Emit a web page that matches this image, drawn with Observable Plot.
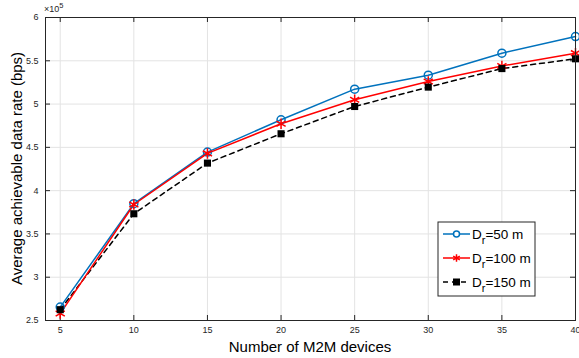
<!DOCTYPE html>
<html>
<head>
<meta charset="utf-8">
<script src="https://cdn.jsdelivr.net/npm/d3@7"></script>
<script src="https://cdn.jsdelivr.net/npm/@observablehq/plot@0.6"></script>
<style>
  html, body { margin: 0; padding: 0; background: #fff; }
  #chart { position: relative; width: 579px; height: 358px; }
  svg { font-family: "Liberation Sans", Arial, sans-serif; }
</style>
</head>
<body>
<div id="chart"></div>
<script>
const devices = [5, 10, 15, 20, 25, 30, 35, 40];
const rate50  = [265500, 384900, 444500, 481900, 517200, 533400, 558800, 578000];
const rate100 = [258000, 384000, 443000, 477300, 505000, 526100, 544000, 558800];
const rate150 = [262500, 373300, 431800, 465700, 497200, 519600, 541000, 552300];
const xTicks = [5, 10, 15, 20, 25, 30, 35, 40];
const yTicks = [250000, 300000, 350000, 400000, 450000, 500000, 550000, 600000];
const seriesNames = ["D_r=50 m", "D_r=100 m", "D_r=150 m"];

const W = 579, H = 358;
const mL = 45, mR = 4, mT = 17, mB = 38;
const innerH = H - mT - mB, innerW = W - mL - mR;
const axisColor = "#262626";
const gridColor = "#e3e3e3";

const s50 = devices.map((d, i) => ({x: d, y: rate50[i]}));
const s100 = devices.map((d, i) => ({x: d, y: rate100[i]}));
const s150 = devices.map((d, i) => ({x: d, y: rate150[i]}));

const chart = Plot.plot({
  width: W, height: H,
  marginLeft: mL, marginRight: mR, marginTop: mT, marginBottom: mB,
  style: {fontFamily: '"Liberation Sans", Arial, sans-serif', background: "#fff"},
  x: {domain: [4, 40], ticks: xTicks, label: null},
  y: {domain: [250000, 600000], ticks: yTicks, label: null},
  marks: [
    Plot.gridX(xTicks, {stroke: gridColor, strokeOpacity: 1}),
    Plot.gridY(yTicks, {stroke: gridColor, strokeOpacity: 1}),
    Plot.axisX(xTicks, {tickSize: 0, tickPadding: 6, fontSize: 9, fill: axisColor, tickFormat: d => String(d)}),
    Plot.axisY(yTicks, {tickSize: 0, tickPadding: 7, fontSize: 9, fill: axisColor, tickFormat: d => String(d / 1e5)}),
    // inward tick marks on all four sides
    Plot.tickX(xTicks, {x: d => d, stroke: axisColor, insetTop: innerH - 5}),
    Plot.tickX(xTicks, {x: d => d, stroke: axisColor, insetBottom: innerH - 5}),
    Plot.tickY(yTicks, {y: d => d, stroke: axisColor, insetRight: innerW - 5}),
    Plot.tickY(yTicks, {y: d => d, stroke: axisColor, insetLeft: innerW - 5}),
    Plot.line(s150, {x: "x", y: "y", stroke: "#000", strokeWidth: 1.5, strokeDasharray: "5,4"}),
    Plot.line(s50, {x: "x", y: "y", stroke: "#0072BD", strokeWidth: 1.5}),
    Plot.line(s100, {x: "x", y: "y", stroke: "#FF0000", strokeWidth: 1.5}),
    Plot.dot(s50, {x: "x", y: "y", symbol: "circle", r: 4, stroke: "#0072BD", strokeWidth: 1.5, fill: "none"}),
    Plot.dot(s100, {x: "x", y: "y", symbol: "asterisk", r: 5, stroke: "#FF0000", strokeWidth: 1.5}),
    Plot.dot(s150, {x: "x", y: "y", symbol: "square", r: 4, fill: "#000", stroke: "none"}),
    Plot.frame({stroke: axisColor, strokeWidth: 1})
  ]
});

document.getElementById("chart").appendChild(chart);
const svg = d3.select(chart);

// exponent label
const ex = svg.append("text").attr("x", mL - 1).attr("y", mT - 5)
  .attr("text-anchor", "start").attr("font-size", 9).attr("fill", axisColor);
ex.append("tspan").text("×10");
ex.append("tspan").attr("dy", -4).attr("font-size", 7.5).text("5");

// axis labels
svg.append("text").attr("x", mL + innerW / 2).attr("y", H - 6)
  .attr("text-anchor", "middle").attr("font-size", 15).attr("fill", "#000")
  .text("Number of M2M devices");
svg.append("text").attr("transform", `translate(22,${mT + innerH / 2}) rotate(-90)`)
  .attr("text-anchor", "middle").attr("font-size", 15).attr("fill", "#000")
  .text("Average achievable data rate (bps)");

// legend
const lg = svg.append("g").attr("transform", "translate(438,222)");
lg.append("rect").attr("width", 97).attr("height", 74).attr("fill", "#fff").attr("stroke", axisColor).attr("stroke-width", 1);
const styles = [
  {stroke: "#0072BD", dash: null, sym: "circle"},
  {stroke: "#FF0000", dash: null, sym: "asterisk"},
  {stroke: "#000", dash: "5,4", sym: "square"}
];
styles.forEach((s, i) => {
  const cy = 12 + i * 24;
  const g = lg.append("g").attr("transform", `translate(0,${cy})`);
  g.append("line").attr("x1", 5).attr("x2", 32).attr("y1", 0).attr("y2", 0)
    .attr("stroke", s.stroke).attr("stroke-width", 1.5).attr("stroke-dasharray", s.dash);
  if (s.sym === "circle") {
    g.append("circle").attr("cx", 18.5).attr("cy", 0).attr("r", 3).attr("fill", "#fff").attr("stroke", s.stroke).attr("stroke-width", 1.5);
  } else if (s.sym === "asterisk") {
    g.append("path").attr("d", d3.symbol(d3.symbolAsterisk, 40)()).attr("transform", "translate(18.5,0)")
      .attr("stroke", s.stroke).attr("stroke-width", 1.5).attr("fill", "none");
  } else {
    g.append("rect").attr("x", 15).attr("y", -3.5).attr("width", 7).attr("height", 7).attr("fill", "#000");
  }
  const parts = seriesNames[i].split("_r");
  const t = g.append("text").attr("x", 34).attr("y", 5).attr("text-anchor", "start")
    .attr("font-size", 13.5).attr("fill", "#000");
  t.append("tspan").text(parts[0]);
  t.append("tspan").attr("dy", 5).attr("font-size", 11).text("r");
  t.append("tspan").attr("dy", -5).text(parts[1]);
});
</script>
</body>
</html>
